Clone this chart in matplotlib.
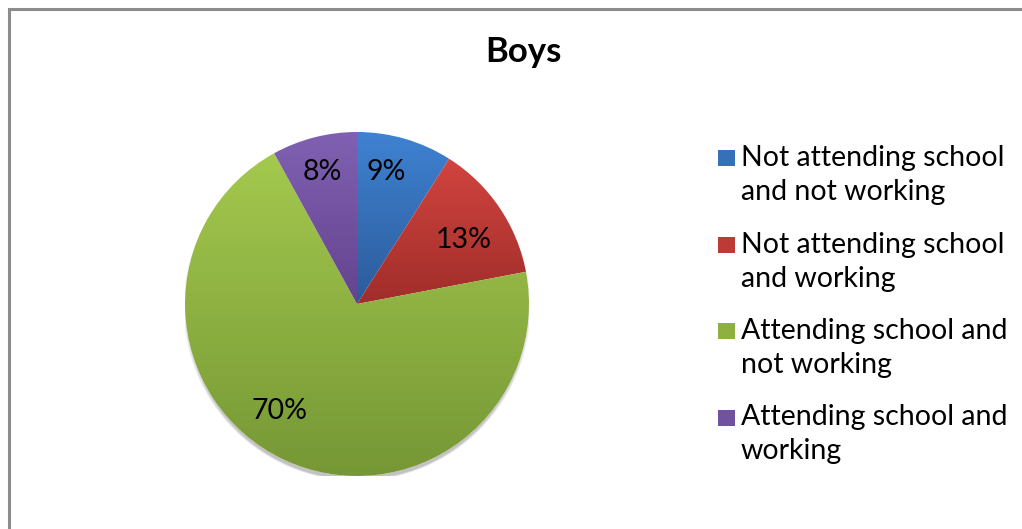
import numpy as np
import matplotlib.pyplot as plt
from matplotlib.colors import LinearSegmentedColormap
from matplotlib.patches import Circle, Rectangle

plt.rcParams['font.family'] = ['Lato', 'DejaVu Sans']

categories = ['Not attending school\nand not working',
              'Not attending school\nand working',
              'Attending school and\nnot working',
              'Attending school and\nworking']
shares = [9, 13, 70, 8]
top_colors = ['#3F82D2', '#D2443F', '#A4C94E', '#8060B2']
bottom_colors = ['#2C5B9A', '#A02D2A', '#769735', '#64448E']
mid_colors = ['#3670B9', '#BE3A36', '#8EB043', '#7152A0']

W, H = 1022, 529
fig = plt.figure(figsize=(W / 100, H / 100), dpi=100)
fig.patch.set_facecolor('white')

# chart frame (runs off the right and bottom edges)
fig.patches.append(Rectangle((8.5 / W, -0.1), 1.2, (H - 8.5) / H + 0.1,
                             transform=fig.transFigure, fill=False,
                             edgecolor='#8c8c8c', linewidth=2.2))

cx, cy, r = 357, 304, 172
ax = fig.add_axes([(cx - r) / W, (H - cy - r) / H, 2 * r / W, 2 * r / H])
ax.set_xlim(-1, 1)
ax.set_ylim(-1, 1)
ax.set_aspect('equal')
ax.axis('off')

# soft shadow under the pie
for k in range(5):
    ax.add_patch(Circle((0.0, -0.035 + 0.004 * k), 0.985 + 0.006 * k,
                        facecolor='#000000', alpha=0.05,
                        edgecolor='none', zorder=0))
ax.add_patch(Circle((0, 0), 1.0, facecolor='white', edgecolor='none', zorder=0.5))

wedges, _ = ax.pie(shares, startangle=90, counterclock=False, radius=1,
                   colors=mid_colors, wedgeprops=dict(linewidth=0))

for w, c0, c1 in zip(wedges, top_colors, bottom_colors):
    ext = w.get_path().get_extents(w.get_transform() - ax.transData)
    cmap = LinearSegmentedColormap.from_list('g', [c1, c0])
    grad = np.linspace(0, 1, 256).reshape(-1, 1)
    im = ax.imshow(grad, cmap=cmap, origin='lower', aspect='auto',
                   extent=(ext.x0, ext.x1, ext.y0, ext.y1), zorder=2)
    im.set_clip_path(w)
    w.set_facecolor('none')

ax.set_xlim(-1, 1)
ax.set_ylim(-1, 1)

# percentage labels
label_pos = [(0.17, 0.77), (0.62, 0.37), (-0.45, -0.62), (-0.2, 0.77)]
for v, (x, y) in zip(shares, label_pos):
    ax.text(x, y, f'{v}%', ha='center', va='center', fontsize=20.5,
            color='black', zorder=5)

fig.text(523 / W, 1 - 52 / H, 'Boys', ha='center', va='center',
         fontsize=25, fontweight='bold')

# legend: square marker + two text lines per entry
for i, (lab, c) in enumerate(zip(categories, mid_colors)):
    y0 = 158 + 86.5 * i
    fig.patches.append(Rectangle((718 / W, 1 - (y0 + 8) / H), 17 / W, 16 / H,
                                 transform=fig.transFigure,
                                 facecolor=c, edgecolor='none'))
    for j, line in enumerate(lab.split('\n')):
        fig.text(741 / W, 1 - (y0 + 34 * j) / H, line, ha='left',
                 va='center', fontsize=20.5)

fig.savefig('out.png', dpi=100)
